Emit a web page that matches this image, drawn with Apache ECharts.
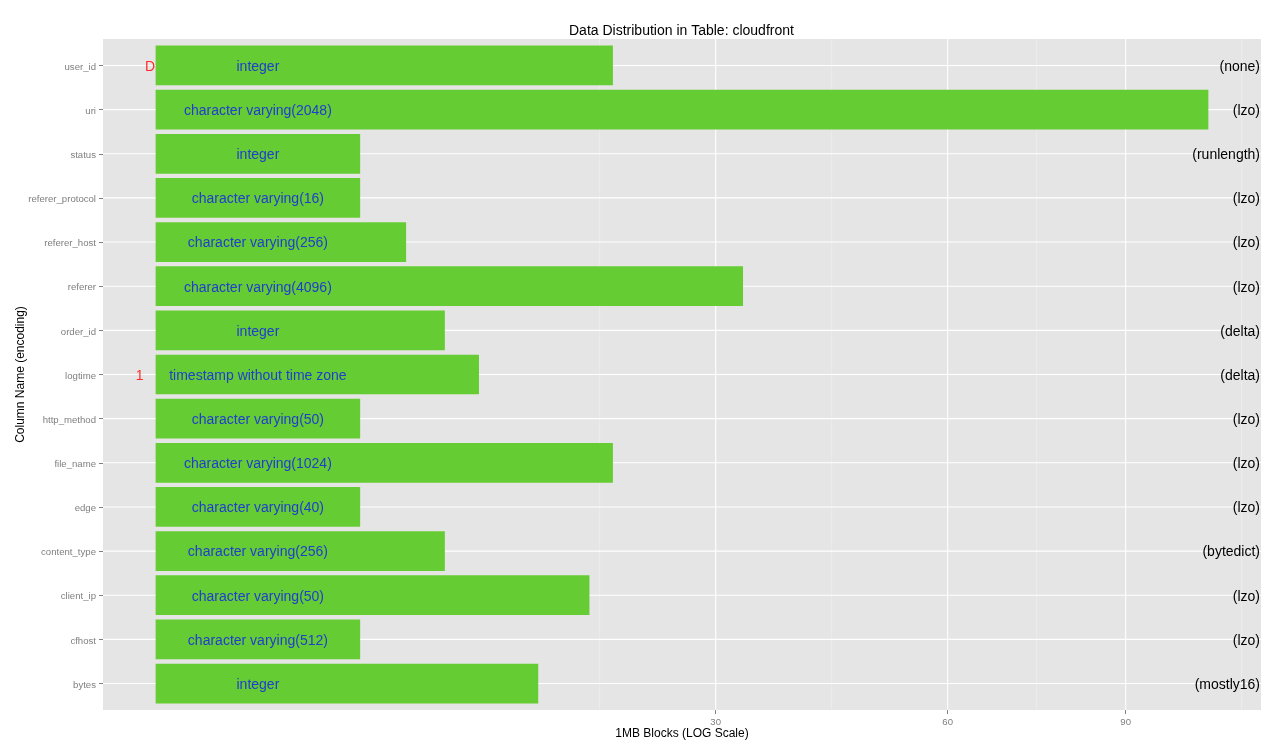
<!DOCTYPE html>
<html>
<head>
<meta charset="utf-8">
<script src="https://cdn.jsdelivr.net/npm/echarts@6/dist/echarts.min.js"></script>
<style>html,body{margin:0;padding:0;background:#fff}#c{width:1280px;height:752px}</style>
</head>
<body>
<div id="c"></div>
<script>
// ---- data ----
const columns = ['user_id','uri','status','referer_protocol','referer_host','referer','order_id','logtime','http_method','file_name','edge','content_type','client_ip','cfhost','bytes'];
const blocks = [20, 106, 4, 4, 6, 33, 8, 10, 4, 20, 4, 8, 18, 4, 14];
const dataTypes = ['integer','character varying(2048)','integer','character varying(16)','character varying(256)','character varying(4096)','integer','timestamp without time zone','character varying(50)','character varying(1024)','character varying(40)','character varying(256)','character varying(50)','character varying(512)','integer'];
const encodings = ['(none)','(lzo)','(runlength)','(lzo)','(lzo)','(lzo)','(delta)','(delta)','(lzo)','(lzo)','(lzo)','(bytedict)','(lzo)','(lzo)','(mostly16)'];
const keyMarks = ['D','','','','','','','1','','','','','','',''];
const xBreaks = [30, 60, 90];
const typeLabelAt = 1;

// ---- scale helpers (square-root transformed axis, ggplot-like expansion) ----
const tr = Math.sqrt;
const maxT = tr(Math.max(...blocks));
const xMin = -0.05 * maxT, xMax = 1.05 * maxT;
const yMin = -0.6, yMax = columns.length - 1 + 0.6;
const majorT = xBreaks.map(tr);
const bd = majorT[1] - majorT[0];
const ext = [majorT[0] - bd, ...majorT, majorT[majorT.length - 1] + bd];
const minorT = [];
for (let i = 0; i < ext.length - 1; i++) {
  const m = (ext[i] + ext[i + 1]) / 2;
  if (m > xMin && m < xMax) minorT.push(m);
}
const FONT = '"Liberation Sans", Arial, Helvetica, sans-serif';

// grid line items: [kind, pos]
const gridItems = [];
minorT.forEach(p => gridItems.push(['vminor', p]));
majorT.forEach(p => gridItems.push(['vmajor', p]));
columns.forEach((c, i) => gridItems.push(['hmajor', i]));

const keyOffset = { 'D': -5.5, '1': -16 };
const TEXT_DY = 1.5;

const chart = echarts.init(document.getElementById('c'), null, { renderer: 'canvas' });
chart.setOption({
  animation: false,
  backgroundColor: '#ffffff',
  title: {
    text: 'Data Distribution in Table: cloudfront',
    left: 569, top: 24, padding: 0,
    textStyle: { fontFamily: FONT, fontSize: 14, fontWeight: 'normal', color: '#000' }
  },
  grid: {
    left: 103, right: 19, top: 39, bottom: 42,
    outerBoundsMode: 'none', containLabel: false,
    show: true, backgroundColor: '#E5E5E5', borderWidth: 0
  },
  xAxis: {
    type: 'value', min: xMin, max: xMax,
    name: '1MB Blocks (LOG Scale)', nameLocation: 'middle', nameGap: 18, nameMoveOverlap: false,
    nameTextStyle: { fontFamily: FONT, fontSize: 12, color: '#000' },
    axisLine: { show: false, onZero: false },
    axisTick: { show: true, length: 4, lineStyle: { color: '#7F7F7F', width: 1 }, customValues: majorT },
    axisLabel: {
      show: true, customValues: majorT, margin: 7,
      formatter: v => String(Math.round(v * v)),
      fontFamily: FONT, fontSize: 9.6, color: '#7F7F7F'
    },
    splitLine: { show: false }, minorSplitLine: { show: false }
  },
  yAxis: {
    type: 'value', inverse: true, min: yMin, max: yMax,
    name: 'Column Name (encoding)', nameLocation: 'middle', nameRotate: 90, nameGap: 76, nameMoveOverlap: false,
    nameTextStyle: { fontFamily: FONT, fontSize: 12, color: '#000' },
    axisLine: { show: false, onZero: false },
    axisTick: { show: true, length: 4, lineStyle: { color: '#7F7F7F', width: 1 }, customValues: columns.map((c, i) => i) },
    axisLabel: {
      show: true, customValues: columns.map((c, i) => i), margin: 7,
      verticalAlign: 'top', lineHeight: 3,
      formatter: v => columns[Math.round(v)] || '',
      fontFamily: FONT, fontSize: 9.6, color: '#7F7F7F'
    },
    splitLine: { show: false }
  },
  series: [
    {
      type: 'custom', z: 1, silent: true, clip: true,
      data: gridItems.map(g => [g[0] === 'hmajor' ? 0 : g[1], g[0] === 'hmajor' ? g[1] : 0]),
      renderItem: (params, api) => {
        const g = gridItems[params.dataIndex];
        let p1, p2;
        if (g[0] === 'hmajor') { p1 = api.coord([xMin, g[1]]); p2 = api.coord([xMax, g[1]]); }
        else { p1 = api.coord([g[1], yMin]); p2 = api.coord([g[1], yMax]); }
        const minor = g[0] === 'vminor';
        return {
          type: 'line',
          shape: { x1: p1[0], y1: p1[1], x2: p2[0], y2: p2[1] },
          style: { stroke: minor ? '#F2F2F2' : '#FFFFFF', lineWidth: minor ? 0.6 : 1.1 }
        };
      }
    },
    {
      type: 'custom', z: 2, silent: true,
      data: blocks.map((v, i) => [tr(v), i]),
      renderItem: (params, api) => {
        const y = api.value(1);
        const s = api.coord([0, y]);
        const e = api.coord([api.value(0), y]);
        const h = api.size([0, 0.9])[1];
        return {
          type: 'rect',
          shape: { x: s[0], y: s[1] - h / 2, width: e[0] - s[0], height: h },
          style: { fill: '#66CC33' }
        };
      }
    },
    {
      type: 'custom', z: 3, silent: true,
      data: columns.map((c, i) => [tr(typeLabelAt), i]),
      renderItem: (params, api) => {
        const i = params.dataIndex;
        const p = api.coord([api.value(0), api.value(1)]);
        const right = api.coord([xMax, i]);
        const zero = api.coord([0, i]);
        const children = [
          { type: 'text', x: p[0], y: p[1] + TEXT_DY, style: { text: dataTypes[i], fill: '#1E3ECF', font: '14px ' + FONT, align: 'center', verticalAlign: 'middle' } },
          { type: 'text', x: right[0] - 1, y: right[1] + TEXT_DY, style: { text: encodings[i], fill: '#000000', font: '14px ' + FONT, align: 'right', verticalAlign: 'middle' } }
        ];
        if (keyMarks[i]) {
          children.push({ type: 'text', x: zero[0] + (keyOffset[keyMarks[i]] || -6), y: zero[1] + TEXT_DY, style: { text: keyMarks[i], fill: '#FF2A2A', font: '14px ' + FONT, align: 'center', verticalAlign: 'middle' } });
        }
        return { type: 'group', children };
      }
    }
  ]
});
</script>
</body>
</html>
